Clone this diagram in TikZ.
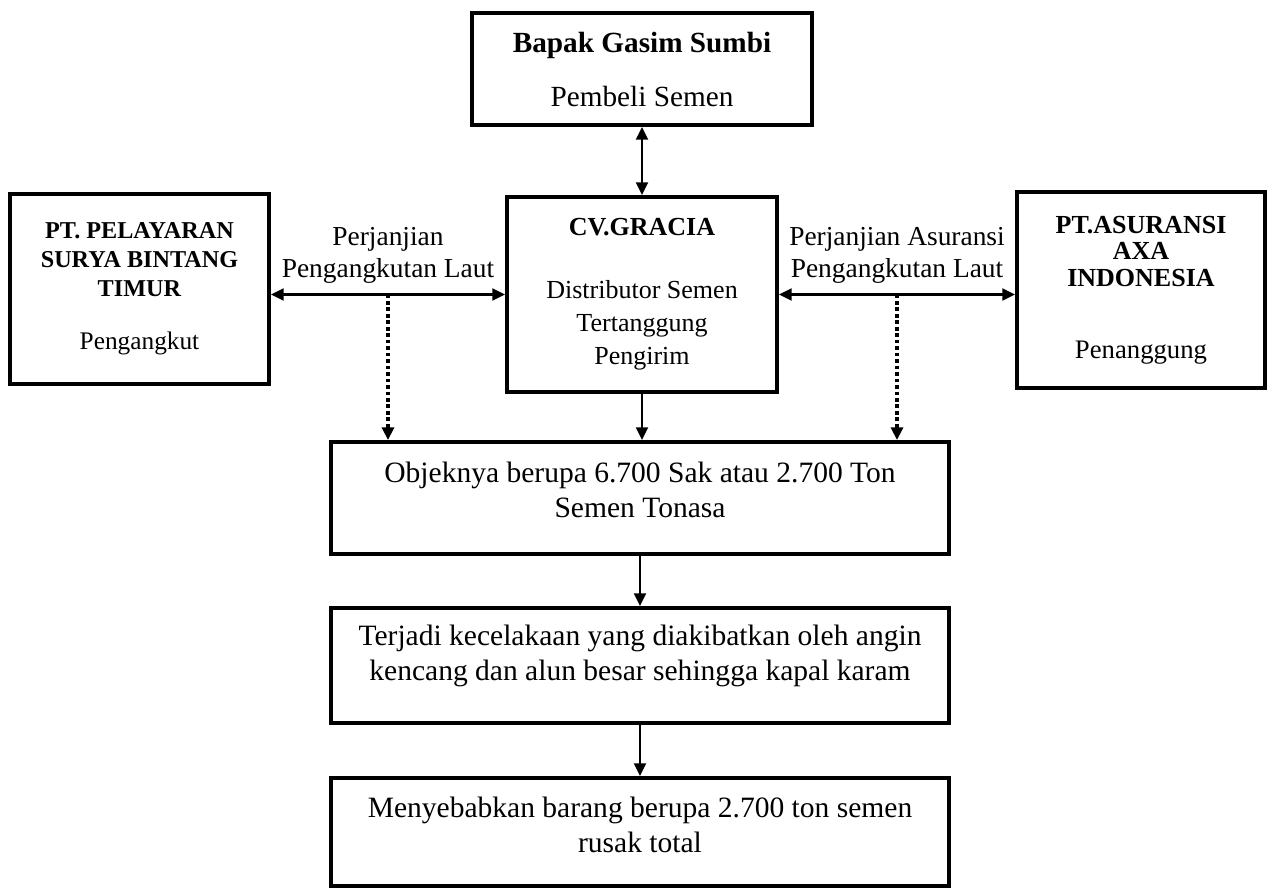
\documentclass[tikz,border=0pt]{standalone}
\usepackage{fontspec}
\setmainfont{Liberation Serif}
\usetikzlibrary{arrows.meta}

\begin{document}
\begin{tikzpicture}[x=0.025cm, y=-0.025cm,
	kotak/.style={draw, line width=2.8pt, align=center, inner sep=0pt},
	panah/.style={line width=1.5pt, -{Triangle[length=9pt,width=8.5pt]}},
	duaarah/.style={line width=1.5pt, {Triangle[length=9pt,width=8.5pt]}-{Triangle[length=9pt,width=8.5pt]}},
	titik/.style={line width=2.4pt, dash pattern=on 2.6pt off 2pt, -{Triangle[length=9pt,width=8.5pt]}},
	ket/.style={align=center, inner sep=0pt, font=\fontsize{19.5}{22.8}\selectfont}]
	\useasboundingbox (0,0) rectangle (1270,888);

	\node[kotak, minimum width=8.5cm, minimum height=2.8cm, font=\fontsize{20.8}{24.9}\selectfont] (pembeli) at (642,69)
		{\textbf{Bapak Gasim Sumbi}\\[13.5pt]Pembeli Semen};
	\node[kotak, minimum width=6.75cm, minimum height=4.875cm, font=\fontsize{18.5}{23.5}\selectfont] (gracia) at (642,294.5)
		{\textbf{CV.GRACIA}\\[21.3pt]Distributor Semen\\Tertanggung\\Pengirim};
	\node[kotak, minimum width=6.475cm, minimum height=4.75cm, font=\fontsize{17.2}{20.6}\selectfont] (pengangkut) at (139.5,289)
		{\textbf{PT. PELAYARAN}\\\textbf{SURYA BINTANG}\\\textbf{TIMUR}\\[17pt]{\fontsize{18}{20.6}\selectfont Pengangkut}};
	\node[kotak, minimum width=6.2cm, minimum height=4.9cm, font=\fontsize{18.5}{18.9}\selectfont] (penanggung) at (1141,290)
		{\textbf{PT.ASURANSI}\\\textbf{AXA}\\\textbf{INDONESIA}\\[32.3pt]{\fontsize{19}{18.9}\selectfont Penanggung}};

	\node[kotak, minimum width=15.45cm, minimum height=2.8cm, text depth=0.4cm, font=\fontsize{21}{24.9}\selectfont] (objek) at (640,498)
		{Objeknya berupa 6.700 Sak atau 2.700 Ton\\Semen Tonasa};
	\node[kotak, minimum width=15.45cm, minimum height=2.875cm, text depth=0.66cm, font=\fontsize{21}{24.9}\selectfont] (kecelakaan) at (640,665.5)
		{Terjadi kecelakaan yang diakibatkan oleh angin\\kencang dan alun besar sehingga kapal karam};
	\node[kotak, minimum width=15.45cm, minimum height=2.7cm, text depth=0.35cm, font=\fontsize{21}{24.9}\selectfont] (rusak) at (640,832)
		{Menyebabkan barang berupa 2.700 ton semen\\rusak total};

	\draw[duaarah] (pembeli.south) -- (gracia.north);
	\draw[duaarah] (pengangkut.east |- gracia.west) -- coordinate (tengahkiri)
		node[ket, above=7pt] {Perjanjian\\Pengangkutan Laut} (gracia.west);
	\draw[duaarah] (gracia.east) -- coordinate (tengahkanan)
		node[ket, above=7pt] {Perjanjian Asuransi\\Pengangkutan Laut} (penanggung.west |- gracia.east);

	\draw[titik] (tengahkiri) -- (tengahkiri |- objek.north);
	\draw[titik] (tengahkanan) -- (tengahkanan |- objek.north);
	\draw[panah] (gracia.south) -- (gracia.south |- objek.north);
	\draw[panah] (objek.south) -- (kecelakaan.north);
	\draw[panah] (kecelakaan.south) -- (rusak.north);
\end{tikzpicture}
\end{document}
